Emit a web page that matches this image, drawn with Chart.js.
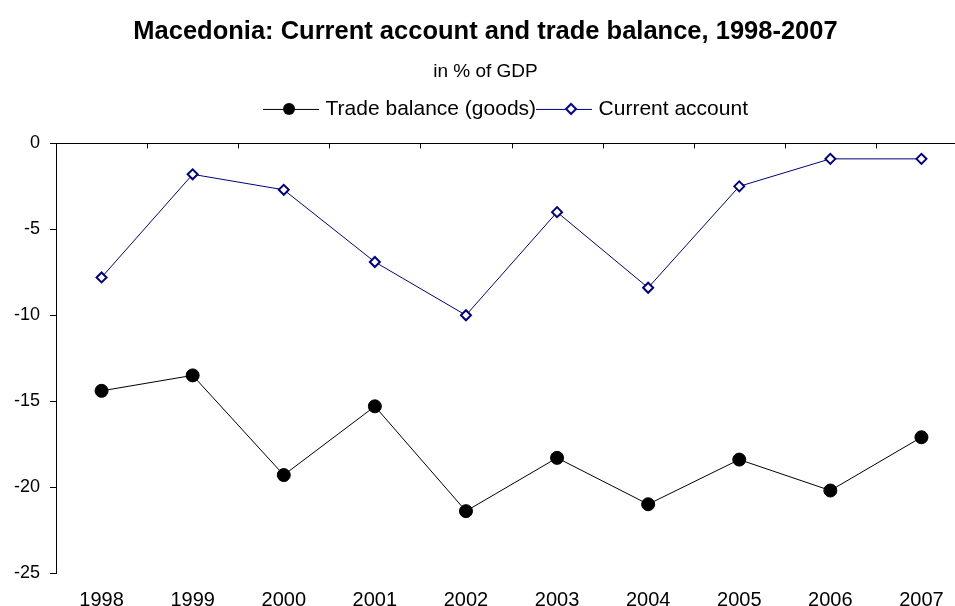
<!DOCTYPE html>
<html>
<head>
<meta charset="utf-8">
<script src="https://cdn.jsdelivr.net/npm/chart.js@4.4.1/dist/chart.umd.min.js"></script>
<style>
  html, body { margin: 0; padding: 0; background: #fff; overflow: hidden; }
  #wrap { width: 975px; height: 619px; }
</style>
</head>
<body>
<div id="wrap"><canvas id="chart"></canvas></div>
<script>
const years = ['1998', '1999', '2000', '2001', '2002', '2003', '2004', '2005', '2006', '2007'];
const tradeBalance = [-14.4, -13.5, -19.3, -15.3, -21.4, -18.3, -21.0, -18.4, -20.2, -17.1];
const currentAccount = [-7.8, -1.8, -2.7, -6.9, -10.0, -4.0, -8.4, -2.5, -0.9, -0.9];

const FONT = '"Liberation Sans", Arial, sans-serif';

// legend symbol: short line with the marker in the middle
function legendSymbol(color, kind) {
    const c = document.createElement('canvas');
    c.width = 56; c.height = 16;
    const g = c.getContext('2d');
    g.strokeStyle = color;
    g.lineWidth = 1;
    g.beginPath(); g.moveTo(0, 8.5); g.lineTo(56, 8.5); g.stroke();
    if (kind === 'circle') {
        g.fillStyle = '#000';
        g.beginPath(); g.arc(26, 8, 6, 0, Math.PI * 2); g.fill();
    } else {
        g.fillStyle = '#fff';
        g.strokeStyle = '#000080';
        g.lineWidth = 2;
        g.beginPath();
        g.moveTo(35, 3); g.lineTo(40, 8); g.lineTo(35, 13); g.lineTo(30, 8); g.closePath();
        g.fill(); g.stroke();
    }
    return c;
}

// legend sits a bit lower-right in the original, with more room under it
const legendTweak = {
    id: 'legendTweak',
    beforeLayout(chart) {
        const lg = chart.legend;
        if (lg && !lg._patched) {
            const fit = lg.fit;
            lg.fit = function () { fit.call(this); this.height += 14; };
            lg._patched = true;
        }
    },
    afterLayout(chart) {
        const lg = chart.legend;
        if (lg) { lg.left += 22; lg.right += 22; }
    }
};

// small downward ticks on the zero line at category boundaries
const boundaryTicks = {
    id: 'boundaryTicks',
    afterDraw(chart) {
        const x = chart.scales.x, y = chart.scales.y;
        const ctx = chart.ctx;
        const y0 = y.getPixelForValue(0);
        const half = (x.getPixelForValue(1) - x.getPixelForValue(0)) / 2;
        ctx.save();
        ctx.strokeStyle = '#000';
        ctx.lineWidth = 1;
        ctx.beginPath();
        for (let i = 0; i < years.length - 1; i++) {
            const px = Math.round(x.getPixelForValue(i) + half) + 0.5;
            ctx.moveTo(px, y0);
            ctx.lineTo(px, y0 + 5);
        }
        ctx.stroke();
        ctx.restore();
    }
};

new Chart(document.getElementById('chart'), {
    type: 'line',
    data: {
        labels: years,
        datasets: [{
            label: 'Trade balance (goods)',
            data: tradeBalance,
            borderColor: '#000',
            borderWidth: 1,
            backgroundColor: '#000',
            pointStyle: 'circle',
            pointRadius: 6.5,
            pointBackgroundColor: '#000',
            pointBorderColor: '#000',
            tension: 0
        }, {
            label: 'Current account',
            data: currentAccount,
            borderColor: '#000080',
            borderWidth: 1,
            pointStyle: 'rectRot',
            pointRadius: 5,
            pointBorderWidth: 2,
            pointBackgroundColor: '#fff',
            pointBorderColor: '#000080',
            tension: 0
        }]
    },
    options: {
        responsive: true,
        maintainAspectRatio: false,
        animation: false,
        layout: { padding: { left: 4, right: 8, top: 5, bottom: 0 } },
        plugins: {
            title: {
                display: true,
                text: 'Macedonia: Current account and trade balance, 1998-2007',
                color: '#000',
                font: { family: FONT, size: 25.5, weight: 'bold' },
                padding: { top: 12, bottom: 13 }
            },
            subtitle: {
                display: true,
                text: 'in % of GDP',
                color: '#000',
                font: { family: FONT, size: 19 },
                padding: { bottom: 11 }
            },
            legend: {
                display: true,
                labels: {
                    color: '#000',
                    font: { family: FONT, size: 21 },
                    usePointStyle: true,
                    pointStyleWidth: 48,
                    boxHeight: 16,
                    padding: 4,
                    generateLabels(chart) {
                        return [
                            { text: 'Trade balance (goods)', pointStyle: legendSymbol('#000', 'circle'), datasetIndex: 0, fontColor: '#000' },
                            { text: 'Current account', pointStyle: legendSymbol('#000080', 'diamond'), datasetIndex: 1, fontColor: '#000' }
                        ];
                    }
                }
            },
            tooltip: { enabled: false }
        },
        scales: {
            x: {
                offset: true,
                grid: { display: false },
                border: { display: false },
                ticks: {
                    color: '#000',
                    font: { family: FONT, size: 20 },
                    padding: 7,
                    maxRotation: 0,
                    autoSkip: false
                }
            },
            y: {
                min: -25,
                max: 0,
                ticks: {
                    stepSize: 5,
                    color: '#000',
                    font: { family: FONT, size: 18 },
                    padding: 10
                },
                grid: {
                    color: c => (c.tick && c.tick.value === 0 ? '#000' : 'rgba(0,0,0,0)'),
                    tickColor: '#000',
                    tickLength: 6,
                    lineWidth: 1
                },
                border: { display: true, color: '#000', width: 1 }
            }
        }
    },
    plugins: [legendTweak, boundaryTicks]
});
</script>
</body>
</html>
